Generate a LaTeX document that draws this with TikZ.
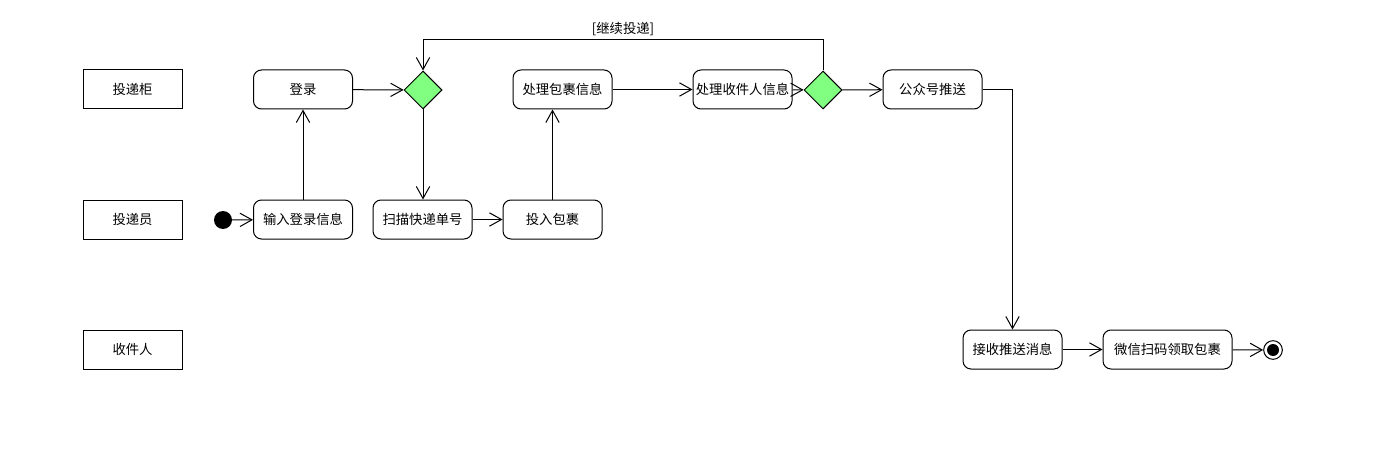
\documentclass[tikz,border=0pt]{standalone}
\usepackage{fontspec}
\newfontfamily\cjk{Noto Sans CJK SC}
\usetikzlibrary{arrows.meta, shapes.geometric, positioning}
\definecolor{DecGreen}{RGB}{128,255,128}

\begin{document}
\begin{tikzpicture}[x=0.75pt, y=-0.75pt,
	font=\cjk\fontsize{10}{12}\selectfont,
	lane/.style={draw, line width=0.75pt, minimum width=74.25pt, minimum height=29.25pt, inner sep=0pt},
	act/.style={draw, rounded corners=6pt, line width=0.75pt, minimum width=74.25pt, minimum height=29.25pt, inner sep=0pt},
	dec/.style={draw, diamond, fill=DecGreen, line width=0.75pt, minimum width=28.5pt, minimum height=28.5pt, inner sep=0pt},
	flow/.style={line width=0.75pt, -{Straight Barb[length=9pt, width=10pt, line width=0.75pt]}}]
	\useasboundingbox (0,0) rectangle (1376,449);
	% swimlane labels
	\node[lane] (cabinet) at (132.5,89.5) {投递柜};
	\node[lane] (courier) at (132.5,219.5) {投递员};
	\node[lane] (receiver) at (132.5,349.5) {收件人};
	% activities
	\node[act] (login) at (303,89.5) {登录};
	\node[dec] (d1) at (423,90) {};
	\node[act] (handlepkg) at (562.5,89.5) {处理包裹信息};
	\node[act] (handlerec) at (742.5,89.5) {处理收件人信息};
	\node[dec] (d2) at (823,90) {};
	\node[act] (push) at (932.5,89.5) {公众号推送};
	\fill (223,220) circle (6.75pt) coordinate (start);
	\node[act] (input) at (303,219.5) {输入登录信息};
	\node[act] (scan) at (422.5,219.5) {扫描快递单号};
	\node[act] (drop) at (552.5,219.5) {投入包裹};
	\node[act] (getmsg) at (1012.5,349.5) {接收推送消息};
	\node[act, minimum width=96.75pt] (pickup) at (1167.5,349.5) {微信扫码领取包裹};
	\node[draw, circle, line width=0.75pt, minimum size=14pt, inner sep=0pt] (end) at (1273,350) {};
	\fill (end.center) circle (4.5pt);
	% flows
	\draw[flow] (start) -- (input);
	\draw[flow] (input) -- (login);
	\draw[flow] (login) -- (d1);
	\draw[flow] (d1.south) -- (d1.south |- scan.north);
	\draw[flow] (scan) -- (drop);
	\draw[flow] (drop.north) -- (drop.north |- handlepkg.south);
	\draw[flow] (handlepkg) -- (handlerec);
	\draw[flow] (handlerec) -- (d2);
	\draw[flow] (d2) -- (push);
	\draw[flow] (d2.north) -- ++(0,-31) -| node[pos=0.25, above=-1pt] {[继续投递]} (d1.north);
	\draw[flow] (push.east) -| (getmsg.north);
	\draw[flow] (getmsg) -- (pickup);
	\draw[flow] (pickup) -- (end);
\end{tikzpicture}
\end{document}
